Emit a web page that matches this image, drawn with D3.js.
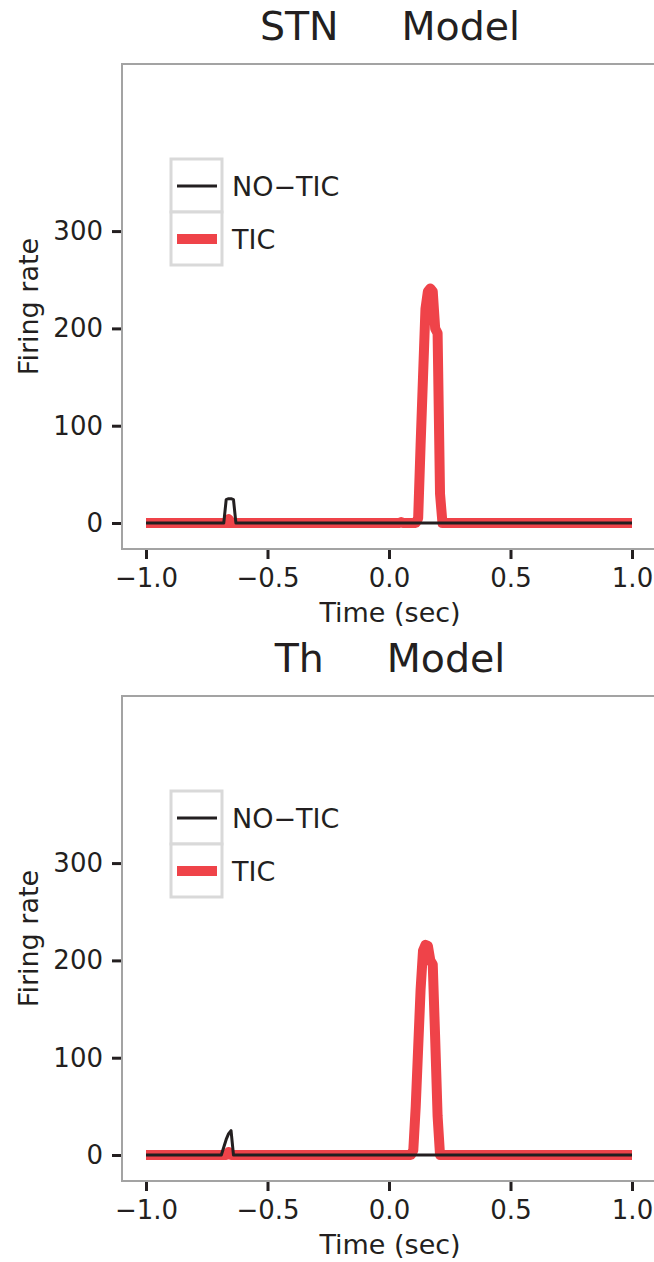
<!DOCTYPE html>
<html><head><meta charset="utf-8">
<script src="https://cdn.jsdelivr.net/npm/d3@7"></script>
<style>body{margin:0;background:#fff}svg{display:block}text{font-family:"DejaVu Sans",Verdana,sans-serif;fill:#231f20;white-space:pre}</style>
</head><body>
<svg id="c" width="654" height="1262"></svg>
<script>
const xTicks = [-1.0, -0.5, 0.0, 0.5, 1.0];
const yTicks = [0, 100, 200, 300];
const seriesNames = ["NO\u2212TIC", "TIC"];

// STN panel
const stnNoTicT = [-1.0, -0.69, -0.68, -0.67, -0.66, -0.65, -0.64, -0.63, 1.0];
const stnNoTicV = [0, 0, 0, 24, 25, 25, 24, 0, 0];
const stnTicT = [-1.0, -0.67, -0.66, -0.65, 0.04, 0.05, 0.06, 0.11, 0.12, 0.13, 0.14, 0.15, 0.16, 0.17, 0.18, 0.19, 0.20, 0.21, 0.22, 1.0];
const stnTicV = [0, 0, 4, 0, 0, 1, 0, 0, 5, 80, 150, 220, 238, 241, 238, 200, 195, 30, 0, 0];

// Th panel
const thNoTicT = [-1.0, -0.69, -0.68, -0.67, -0.66, -0.65, -0.64, 1.0];
const thNoTicV = [0, 0, 8, 16, 22, 25, 0, 0];
const thTicT = [-1.0, -0.67, -0.66, -0.65, 0.09, 0.10, 0.11, 0.12, 0.13, 0.14, 0.15, 0.16, 0.17, 0.18, 0.19, 0.20, 0.21, 1.0];
const thTicV = [0, 0, 3, 0, 0, 5, 50, 110, 170, 210, 216, 215, 200, 196, 120, 40, 0, 0];

const panels = [
  {title: "STN     Model", top: 64, noT: stnNoTicT, noV: stnNoTicV, tT: stnTicT, tV: stnTicV},
  {title: "Th     Model", top: 696, noT: thNoTicT, noV: thNoTicV, tT: thTicT, tV: thTicV}
];

const svg = d3.select("#c");
const RED = "#ef4349", BLACK = "#231f20", GREY = "#a3a3a3";
const left = 122, ph = 485;

panels.forEach(p => {
  const g = svg.append("g");
  const x = d3.scaleLinear().domain([-1, 1]).range([146, 632]);
  const y = d3.scaleLinear().domain([-26.7, 471.7]).range([p.top + ph, p.top]);

  // title
  g.append("text").attr("x", 390).attr("y", p.top - 24).attr("text-anchor", "middle")
    .attr("xml:space", "preserve").attr("font-size", 39.5).text(p.title);

  // lines
  const line = d3.line().x(d => x(d[0])).y(d => y(d[1])).curve(d3.curveLinear);
  g.append("path").datum(p.tT.map((t, i) => [t, p.tV[i]]))
    .attr("d", line).attr("fill", "none").attr("stroke", RED).attr("stroke-width", 10)
    .attr("stroke-linejoin", "round");
  g.append("path").datum(p.noT.map((t, i) => [t, p.noV[i]]))
    .attr("d", line).attr("fill", "none").attr("stroke", BLACK).attr("stroke-width", 3)
    .attr("stroke-linejoin", "round");

  // panel border (left, top, bottom; right off-canvas)
  g.append("rect").attr("x", left).attr("y", p.top).attr("width", 700).attr("height", ph)
    .attr("fill", "none").attr("stroke", GREY).attr("stroke-width", 2);

  // y axis
  const ya = g.append("g").attr("transform", `translate(${left - 1},0)`)
    .call(d3.axisLeft(y).tickValues(yTicks).tickSize(9).tickPadding(9).tickFormat(d3.format("d")));
  ya.select(".domain").remove();
  ya.selectAll("line").attr("stroke", BLACK).attr("stroke-width", 3);
  ya.selectAll("text").attr("font-size", 26).attr("font-family", "DejaVu Sans").attr("fill", BLACK);

  // x axis
  const xa = g.append("g").attr("transform", `translate(0,${p.top + ph + 1})`)
    .call(d3.axisBottom(x).tickValues(xTicks).tickSize(9).tickPadding(10)
      .tickFormat(d => d3.format(".1f")(d).replace("-", "\u2212")));
  xa.select(".domain").remove();
  xa.selectAll("line").attr("stroke", BLACK).attr("stroke-width", 3);
  xa.selectAll("text").attr("font-size", 26).attr("font-family", "DejaVu Sans").attr("fill", BLACK);

  // axis labels
  g.append("text").attr("x", 390).attr("y", p.top + ph + 73).attr("text-anchor", "middle")
    .attr("font-size", 27).text("Time (sec)");
  g.append("text").attr("transform", `translate(38,${p.top + ph / 2}) rotate(-90)`)
    .attr("text-anchor", "middle").attr("font-size", 27).text("Firing rate");

  // legend
  const lg = g.append("g").attr("transform", `translate(171,${p.top + 95})`);
  seriesNames.forEach((name, i) => {
    const ky = i * 53;
    lg.append("rect").attr("x", 0).attr("y", ky).attr("width", 51).attr("height", 53)
      .attr("fill", "#fff").attr("stroke", "#d9d9d9").attr("stroke-width", 3);
    lg.append("line").attr("x1", 6).attr("x2", 46).attr("y1", ky + 27).attr("y2", ky + 27)
      .attr("stroke", i === 0 ? BLACK : RED).attr("stroke-width", i === 0 ? 3 : 10);
    lg.append("text").attr("x", 61).attr("y", ky + 37).attr("font-size", 27).text(name);
  });
});
</script>
</body></html>
